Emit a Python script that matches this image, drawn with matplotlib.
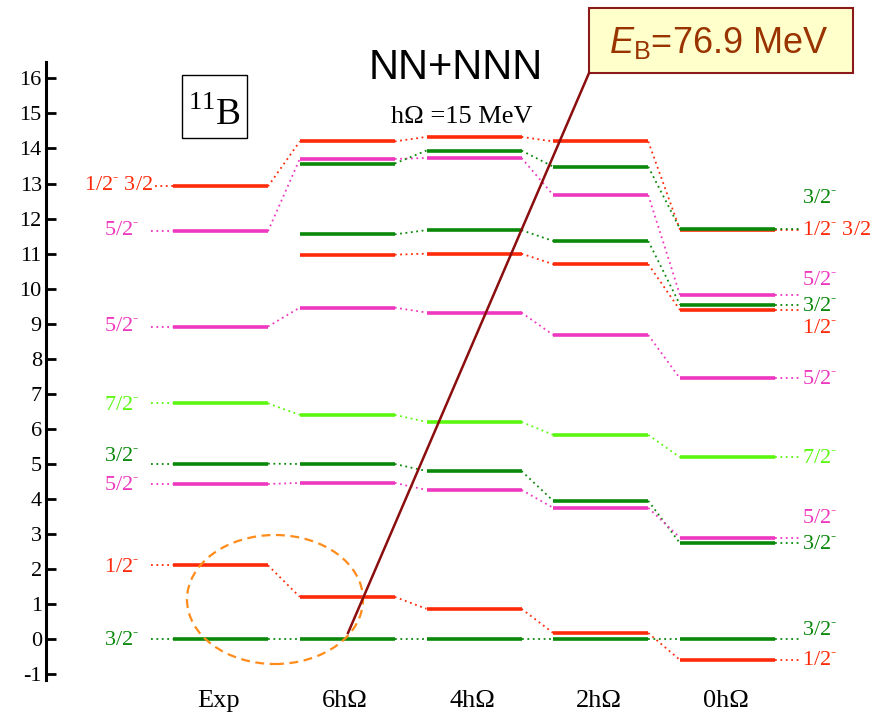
import matplotlib
matplotlib.use("Agg")
import matplotlib.pyplot as plt
from matplotlib.patches import Rectangle, Ellipse

plt.rcParams['font.family'] = ['Liberation Serif', 'DejaVu Serif']
plt.rcParams['axes.unicode_minus'] = False
plt.rcParams['mathtext.fontset'] = 'custom'
plt.rcParams['mathtext.rm'] = 'Liberation Serif'
plt.rcParams['mathtext.it'] = 'Liberation Sans:italic'
plt.rcParams['mathtext.sf'] = 'Liberation Sans'

RED = '#ff2a0a'
MAG = '#ee38c0'
GRN = '#0a880a'
LGR = '#5cf70f'

columns = ["Exp", "6h\u03a9", "4h\u03a9", "2h\u03a9", "0h\u03a9"]

# one state followed through the columns (None = not there)
track_colors = [RED, MAG, GRN, GRN, RED, MAG, LGR, GRN, MAG, RED, GRN]
track_levels = [
  [12.92, 14.20, 14.33, 14.20, 11.68],
  [11.64, 13.70, 13.73, 12.67, 9.82],
  [None, 13.57, 13.94, 13.48, 11.71],
  [None, 11.55, 11.67, 11.36, 9.54],
  [None, 10.97, 11.00, 10.70, 9.39],
  [8.92, 9.46, 9.32, 8.68, 7.44],
  [6.73, 6.40, 6.20, 5.83, 5.19],
  [5.01, 5.00, 4.80, 3.95, 2.74],
  [4.43, 4.46, 4.26, 3.75, 2.90],
  [2.11, 1.21, 0.87, 0.18, -0.59],
  [0.00, 0.00, 0.00, 0.00, 0.00],
]

M = r'$^{\text{-}}$'
left_labels = [
  (12.93, '1/2' + M + ' 3/2', RED),
  (11.65, '5/2' + M, MAG),
  (8.91, '5/2' + M, MAG),
  (6.68, '7/2' + M, LGR),
  (5.21, '3/2' + M, GRN),
  (4.39, '5/2' + M, MAG),
  (2.06, '1/2' + M, RED),
  (-0.03, '3/2' + M, GRN),
]
right_labels = [
  (12.56, '3/2' + M, GRN),
  (11.65, '1/2' + M + ' 3/2', RED),
  (10.23, '5/2' + M, MAG),
  (9.50, '3/2' + M, GRN),
  (8.87, '1/2' + M, RED),
  (7.42, '5/2' + M, MAG),
  (5.16, '7/2' + M, LGR),
  (3.45, '5/2' + M, MAG),
  (2.69, '3/2' + M, GRN),
  (0.26, '3/2' + M, GRN),
  (-0.61, '1/2' + M, RED),
]
yticks = list(range(-1, 17))

fig = plt.figure(figsize=(8.88, 7.17), dpi=100)
ax = fig.add_axes([46/888, 37/717, 842/888, 618/717])
ax.set_xlim(46, 888)
ax.set_ylim(-1.161, 16.466)
for s in ['top', 'right', 'bottom']:
  ax.spines[s].set_visible(False)
ax.spines['left'].set_linewidth(2.2)
ax.set_xticks([])
ax.set_yticks(yticks)
ax.tick_params(axis='y', direction='in', length=7, width=2, labelsize=16, pad=3)

x0, step, width = 173, 126.75, 95
lefts = [x0 + i*step for i in range(len(columns))]

for color, levels in zip(track_colors, track_levels):
  for i, e in enumerate(levels):
    if e is None:
      continue
    ax.plot([lefts[i], lefts[i] + width], [e, e], color=color, lw=2.6,
            solid_capstyle='butt', zorder=3)
    if i + 1 < len(levels) and levels[i+1] is not None:
      ax.plot([lefts[i] + width, lefts[i+1]], [e, levels[i+1]], color=color,
              lw=1.3, ls=(0, (1, 2)), zorder=2)
  if levels[0] is not None:
    x_start = 155 if levels[0] > 12 else 151
    ax.plot([x_start, lefts[0]], [levels[0]]*2, color=color, lw=1.3, ls=(0, (1, 2)))
  ax.plot([lefts[-1] + width, 800], [levels[-1]]*2, color=color, lw=1.3, ls=(0, (1, 2)))

for e, txt, color in left_labels:
  xr = 153 if ' ' in txt else 139
  ax.text(xr, e, txt, color=color, fontsize=16, ha='right', va='center')
for e, txt, color in right_labels:
  ax.text(802, e, txt, color=color, fontsize=16, ha='left', va='center')

for i, name in enumerate(columns):
  ax.text(lefts[i] + width/2 - 2, -1.75, name, fontsize=19, ha='center', va='center')

# nucleus box
ax.add_patch(Rectangle((182, 14.30), 65, 1.79, fc='white', ec='black', lw=1, clip_on=False))
ax.text(214.5, 14.67, r'$^{11}$B', fontsize=27, ha='center', va='baseline')

ax.text(456, 16.30, 'NN+NNN', fontsize=30, family='Liberation Sans', ha='center', va='center')
ax.text(462, 14.89, 'h\u03a9 =15 MeV', fontsize=19, ha='center', va='center')

# binding energy callout
ax.add_patch(Rectangle((589, 16.15), 264, 1.86, fc='#ffffcc', ec='#8b1a1a', lw=1.5,
                       clip_on=False, zorder=5))
ax.text(719, 16.72, r'$E_{\mathsf{B}}$=76.9 MeV', fontsize=26, family='Liberation Sans',
        color='#993300', ha='center', va='baseline', zorder=6)
ax.plot([589, 348], [16.15, 0.18], color='#8b0d0d', lw=1.8, zorder=6, clip_on=False)

ax.add_patch(Ellipse((275, 1.135), 176, 3.68, fill=False, ec='#ff8c1a', lw=1.6,
                     ls=(0, (4, 2.5)), zorder=5))

fig.savefig('out.png', dpi=100)
